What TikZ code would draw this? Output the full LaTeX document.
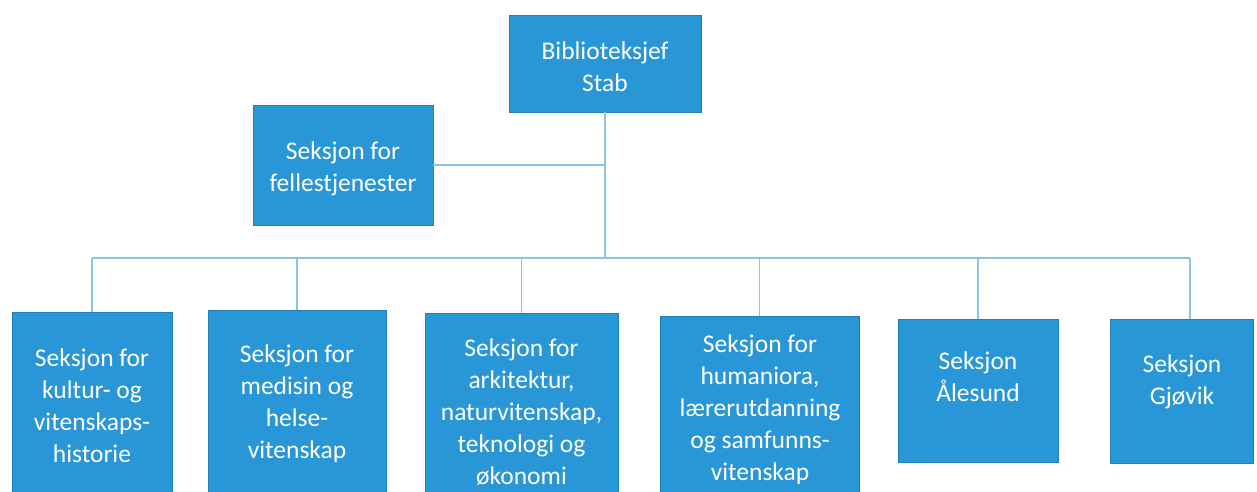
\documentclass[tikz,border=0pt]{standalone}
\usepackage{fontspec}
\setmainfont{Carlito}
\definecolor{boxblue}{RGB}{41,151,215}
\definecolor{lineblue}{RGB}{140,195,232}
\begin{document}
\begin{tikzpicture}[x=1pt,y=-1pt,
  box/.style={draw=boxblue!85!black, line width=0.6pt, fill=boxblue, inner sep=0pt, anchor=center},
  lbl/.style={text=white, align=center, inner sep=0pt, font=\fontsize{25.5}{32}\selectfont},
  conn/.style={draw=lineblue, line width=1.3pt}]
\useasboundingbox (0,0) rectangle (1257,492);
\clip (0,0) rectangle (1257,492);
\fill[white] (0,0) rectangle (1257,492);
% boxes
\node[box, minimum width=192pt, minimum height=97pt] (top) at (605,63.5) {};
\node[box, minimum width=180pt, minimum height=120pt] (fell) at (343,165) {};
\node[box, minimum width=160pt, minimum height=186pt] (b1) at (92,405) {};
\node[box, minimum width=178pt, minimum height=186pt] (b2) at (297,403) {};
\node[box, minimum width=193pt, minimum height=198pt] (b3) at (521.5,412) {};
\node[box, minimum width=199pt, minimum height=186pt] (b4) at (759.5,409) {};
\node[box, minimum width=160pt, minimum height=143pt] (b5) at (978,390.5) {};
\node[box, minimum width=143pt, minimum height=144pt] (b6) at (1181.5,391) {};
% labels
\node[lbl] (ttop) at (605,67) {Biblioteksjef\\Stab};
\node[lbl] (tfell) at (343,169) {Seksjon for\\fellestjenester};
\node[lbl] (t1) at (92,406) {Seksjon for\\kultur- og\\vitenskaps-\\historie};
\node[lbl] (t2) at (297,404) {Seksjon for\\medisin og\\helse-\\vitenskap};
\node[lbl] (t3) at (521.5,412) {Seksjon for\\arkitektur,\\naturvitenskap,\\teknologi og\\økonomi};
\node[lbl] (t4) at (760,410) {Seksjon for\\humaniora,\\lærerutdanning\\og samfunns-\\vitenskap};
\node[lbl] (t5) at (978,377) {Seksjon\\Ålesund};
\node[lbl] (t6) at (1182,382) {Seksjon\\Gjøvik};
% connectors
\coordinate (bus) at (0,258);
\coordinate (c6) at (1190,0);
\draw[conn] (top.south) -- (top.south |- bus);
\draw[conn] (fell.east) -- (fell.east -| top.south);
\draw[conn] (b1.north |- bus) -- (c6 |- bus);
\draw[conn] (b1.north |- bus) -- (b1.north);
\draw[conn] (b2.north |- bus) -- (b2.north);
\draw[conn] (b3.north |- bus) -- (b3.north);
\draw[conn] (b4.north |- bus) -- (b4.north);
\draw[conn] (b5.north |- bus) -- (b5.north);
\draw[conn] (c6 |- bus) -- (c6 |- b6.north);
\end{tikzpicture}
\end{document}
